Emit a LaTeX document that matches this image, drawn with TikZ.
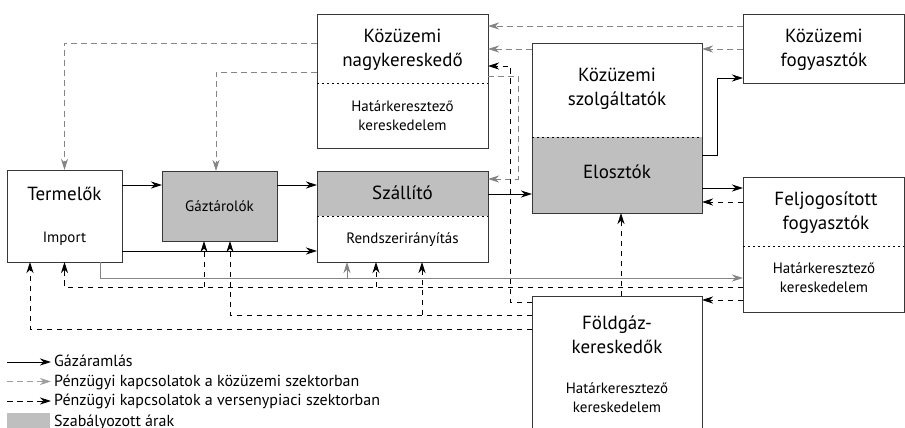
\documentclass[tikz,border=0pt]{standalone}
\usepackage{fontspec}
\setmainfont{PT Sans}
\usetikzlibrary{arrows.meta,backgrounds}
\definecolor{regfill}{gray}{0.75}
\definecolor{publine}{gray}{0.52}
\definecolor{publeg}{gray}{0.62}
\definecolor{boxline}{gray}{0.22}
\tikzset{
  box/.style={draw=boxline,line width=0.9pt,inner sep=0pt,outer sep=0pt},
  bigtxt/.style={font=\fontsize{19}{24}\selectfont,align=center,inner sep=0pt},
  smalltxt/.style={font=\fontsize{15}{19}\selectfont,align=center,inner sep=0pt},
  legtxt/.style={font=\fontsize{16}{19}\selectfont,anchor=base west,inner sep=0pt},
  tip/.style={-{Stealth[length=11pt,width=7pt,inset=3.5pt]}},
  gas/.style={tip,draw=black,line width=0.9pt},
  pub/.style={tip,draw=publine,color=publine,line width=0.9pt,dash pattern=on 6pt off 4pt},
  pubsolid/.style={tip,draw=publine,color=publine,line width=0.9pt},
  comp/.style={tip,draw=black,line width=0.9pt,dash pattern=on 5.5pt off 4.5pt},
  divider/.style={draw=black,line width=0.9pt,dash pattern=on 2pt off 3pt},
}
\begin{document}
\begin{tikzpicture}[x=1pt,y=-1pt]
\useasboundingbox (0,0) rectangle (905,428);
\clip (0,0) rectangle (905,428);

% boxes
\node[box,minimum width=171pt,minimum height=134pt] (kn) at (402.5,81) {};
\node[box,minimum width=170pt,minimum height=170pt] (ksz) at (617,128) {};
\node[box,minimum width=161pt,minimum height=69pt] (kf) at (823.5,48.5) {};
\node[box,minimum width=115pt,minimum height=92pt] (term) at (64.5,216) {};
\node[box,fill=regfill,minimum width=115pt,minimum height=70pt] (gaz) at (219.5,206) {};
\node[box,minimum width=171pt,minimum height=91pt] (szal) at (402.5,216.5) {};
\node[box,minimum width=161pt,minimum height=135pt] (fel) at (823.5,244.5) {};
\node[box,minimum width=170pt,minimum height=150pt] (fold) at (617,371) {};

\begin{scope}[on background layer]
  \fill[regfill] (ksz.west |- 0,137) rectangle (ksz.south east);
  \fill[regfill] (szal.north west) rectangle (szal.east |- 0,216);
\end{scope}
\draw[divider] (kn.west |- 0,83) -- (kn.east |- 0,83);
\draw[divider] (ksz.west |- 0,137) -- (ksz.east |- 0,137);
\draw[divider] (szal.west |- 0,216) -- (szal.east |- 0,216);
\draw[divider] (fel.west |- 0,246) -- (fel.east |- 0,246);

% texts
\node[bigtxt] (kn-a) at (402.5,50) {Közüzemi\\nagykereskedő};
\node[smalltxt] (kn-b) at (402.5,116) {Határkeresztező\\kereskedelem};
\node[bigtxt] (ksz-a) at (617,89) {Közüzemi\\szolgáltatók};
\node[bigtxt] (ksz-b) at (617,172) {Elosztók};
\node[bigtxt] (kf-a) at (824,50) {Közüzemi\\fogyasztók};
\node[bigtxt] (term-a) at (64.5,194) {Termelők};
\node[smalltxt] (term-b) at (64.5,239) {Import};
\node[smalltxt] (gaz-a) at (219.5,206) {Gáztárolók};
\node[bigtxt] (szal-a) at (402.5,193) {Szállító};
\node[smalltxt] (szal-b) at (402.5,240) {Rendszerirányítás};
\node[bigtxt] (fel-a) at (826,213) {Feljogosított\\fogyasztók};
\node[smalltxt] (fel-b) at (824,278) {Határkeresztező\\kereskedelem};
\node[bigtxt] (fold-a) at (617,335) {Földgáz-\\kereskedők};
\node[smalltxt] (fold-b) at (617,398) {Határkeresztező\\kereskedelem};

% gas flow
\draw[gas] (term.east |- 0,185) -- (gaz.west |- 0,185);
\draw[gas] (term.east |- 0,251) -- (szal.west |- 0,251);
\draw[gas] (gaz.east |- 0,185) -- (szal.west |- 0,185);
\draw[gas] (szal.east |- 0,194) -- (ksz.west |- 0,194);
\draw[gas] (ksz.east |- 0,155) -- ++(15,0) |- (kf.west |- 0,78);
\draw[gas] (ksz.east |- 0,188) -- (fel.west |- 0,188);

% public sector money
\draw[pub] (kf.west |- 0,26) -- (kn.east |- 0,26);
\draw[pub] (kf.west |- 0,49) -- (ksz.east |- 0,49);
\draw[pub] (ksz.west |- 0,49) -- (kn.east |- 0,49);
\draw[pub] (kn.west |- 0,43) -| (term.north);
\draw[pub] (kn.west |- 0,72) -| (gaz.north -| 216,0);
\draw[pub] (kn.east |- 0,76) -- ++(30,0) |- (szal.east |- 0,179);
\draw[pubsolid] (term.south -| 100,0) |- (fel.west |- 0,278);
\coordinate (gbr) at (347,278);
\draw[pubsolid] (gbr) -- (szal.south -| gbr);

% competitive money
\draw[comp] (fel.west |- 0,287) -| (term.south);
\coordinate (c1) at (204,287);
\coordinate (c2) at (376,287);
\draw[comp] (c1) -- (gaz.south -| c1);
\draw[comp] (c2) -- (szal.south -| c2);
\draw[comp] (fold.west |- 0,315) -| (gaz.south -| 230,0);
\coordinate (c3) at (422,315);
\draw[comp] (c3) -- (szal.south -| c3);
\draw[comp] (fold.west |- 0,329) -| (term.south -| 30,0);
\draw[comp] (fold.north -| 621,0) -- (ksz.south -| 621,0);
\draw[comp] (fel.west |- 0,202) -- (ksz.east |- 0,202);
\draw[comp] (fel.west |- 0,300) -- (fold.east |- 0,300);
\draw[comp] (fold.west |- 0,302) -- ++(-22,0) |- (kn.east |- 0,66);

% legend
\coordinate (l1a) at (7,362); \coordinate (l1b) at (51,362);
\coordinate (l2a) at (7,381.5); \coordinate (l2b) at (51,381.5);
\coordinate (l3a) at (7,401); \coordinate (l3b) at (51,401);
\draw[gas] (l1a) -- (l1b);
\draw[pub,draw=publeg,color=publeg] (l2a) -- (l2b);
\draw[comp] (l3a) -- (l3b);
\fill[regfill] (7,413) rectangle (50,432);
\node[legtxt] (lt1) at (54,366.5) {Gázáramlás};
\node[legtxt] (lt2) at (54,386) {Pénzügyi kapcsolatok a közüzemi szektorban};
\node[legtxt] (lt3) at (54,405.5) {Pénzügyi kapcsolatok a versenypiaci szektorban};
\node[legtxt] (lt4) at (54,426) {Szabályozott árak};
\end{tikzpicture}
\end{document}
